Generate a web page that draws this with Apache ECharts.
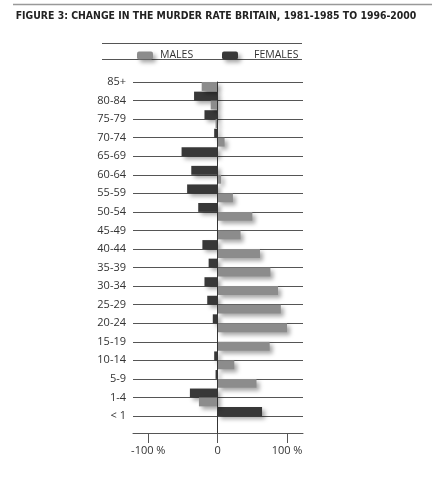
<!DOCTYPE html>
<html>
<head>
<meta charset="utf-8">
<script src="https://cdn.jsdelivr.net/npm/echarts@6/dist/echarts.min.js"></script>
<style>html,body{margin:0;padding:0;background:#fff}#c{width:432px;height:482px}</style>
</head>
<body>
<div id="c"></div>
<script>
var titleText = 'FIGURE 3: CHANGE IN THE MURDER RATE BRITAIN, 1981-1985 TO 1996-2000';
var categories = ['85+','80-84','75-79','70-74','65-69','60-64','55-59','50-54','45-49','40-44','35-39','30-34','25-29','20-24','15-19','10-14','5-9','1-4','< 1'];
var males   = [-23,-10,-3,10,0,5,22,50,33,61,76,87,91,100,75,24,56,-27,0];
var females = [0,-34,-19,-5,-52,-38,-44,-28,0,-22,-13,-19,-15,-7,0,-5,-3,-40,64];
var xTicks = [-100,0,100];
var xMin = -122, xMax = 123;

var chart = echarts.init(document.getElementById('c'));
var shadow = {shadowBlur:4, shadowOffsetX:3, shadowOffsetY:3, shadowColor:'rgba(0,0,0,0.35)'};
var GREY = '#8c8c8c', DARK = '#383838';
function fmt(v){ return v === 0 ? '0' : v + ' %'; }

chart.setOption({
  animation:false,
  textStyle:{fontFamily:'Open Sans'},
  title:{text:titleText, left:'center', top:6,
    textStyle:{fontFamily:'DejaVu Sans Condensed', fontWeight:'bold', fontSize:10.4, color:'#222'}},
  legend:[
    {data:['MALES'], left:132, top:45, itemWidth:16, itemHeight:8, itemGap:0,
     textStyle:{fontSize:10.5, color:'#333', padding:[0,0,0,2]}, itemStyle:shadow},
    {data:['FEMALES'], left:217, top:45, itemWidth:16, itemHeight:8, itemGap:0,
     textStyle:{fontSize:10.5, color:'#333', padding:[0,0,0,11]}, itemStyle:shadow}
  ],
  graphic:[
    {type:'line', shape:{x1:13,y1:4.5,x2:432,y2:4.5}, style:{stroke:'#999', lineWidth:1.5}},
    {type:'line', shape:{x1:102,y1:43.5,x2:302,y2:43.5}, style:{stroke:'#555', lineWidth:1}},
    {type:'line', shape:{x1:102,y1:59.5,x2:302,y2:59.5}, style:{stroke:'#555', lineWidth:1}}
  ],
  grid:[
    {left:133, right:129, top:82, bottom:66},
    {left:133, right:129, top:82, bottom:49}
  ],
  xAxis:[
    {type:'value', gridIndex:0, min:xMin, max:xMax, offset:17,
     axisLine:{show:true, lineStyle:{color:'#555', width:1}},
     axisTick:{show:true, length:10, inside:false, customValues:xTicks, lineStyle:{color:'#555'}},
     axisLabel:{customValues:xTicks, formatter:fmt, margin:12, fontSize:11, color:'#333'},
     splitLine:{show:false}},
    {type:'value', gridIndex:1, min:xMin, max:xMax, show:false}
  ],
  yAxis:[
    {type:'category', gridIndex:0, data:categories, inverse:true, boundaryGap:false,
     axisLine:{show:false}, axisTick:{show:false},
     axisLabel:{fontSize:11, color:'#333', margin:7},
     splitLine:{show:true, lineStyle:{color:'#555', width:1}}},
    {type:'value', gridIndex:1, z:5,
     axisLine:{show:true, onZero:true, lineStyle:{color:'#333', width:1}},
     axisTick:{show:false}, axisLabel:{show:false}, splitLine:{show:false}}
  ],
  series:[
    {name:'FEMALES', type:'bar', xAxisIndex:0, yAxisIndex:0, data:females, barGap:'0%', barCategoryGap:'4%',
     itemStyle:Object.assign({color:DARK}, shadow)},
    {name:'MALES', type:'bar', xAxisIndex:0, yAxisIndex:0, data:males, barGap:'0%', barCategoryGap:'4%',
     itemStyle:Object.assign({color:GREY}, shadow)}
  ]
});
</script>
</body>
</html>
